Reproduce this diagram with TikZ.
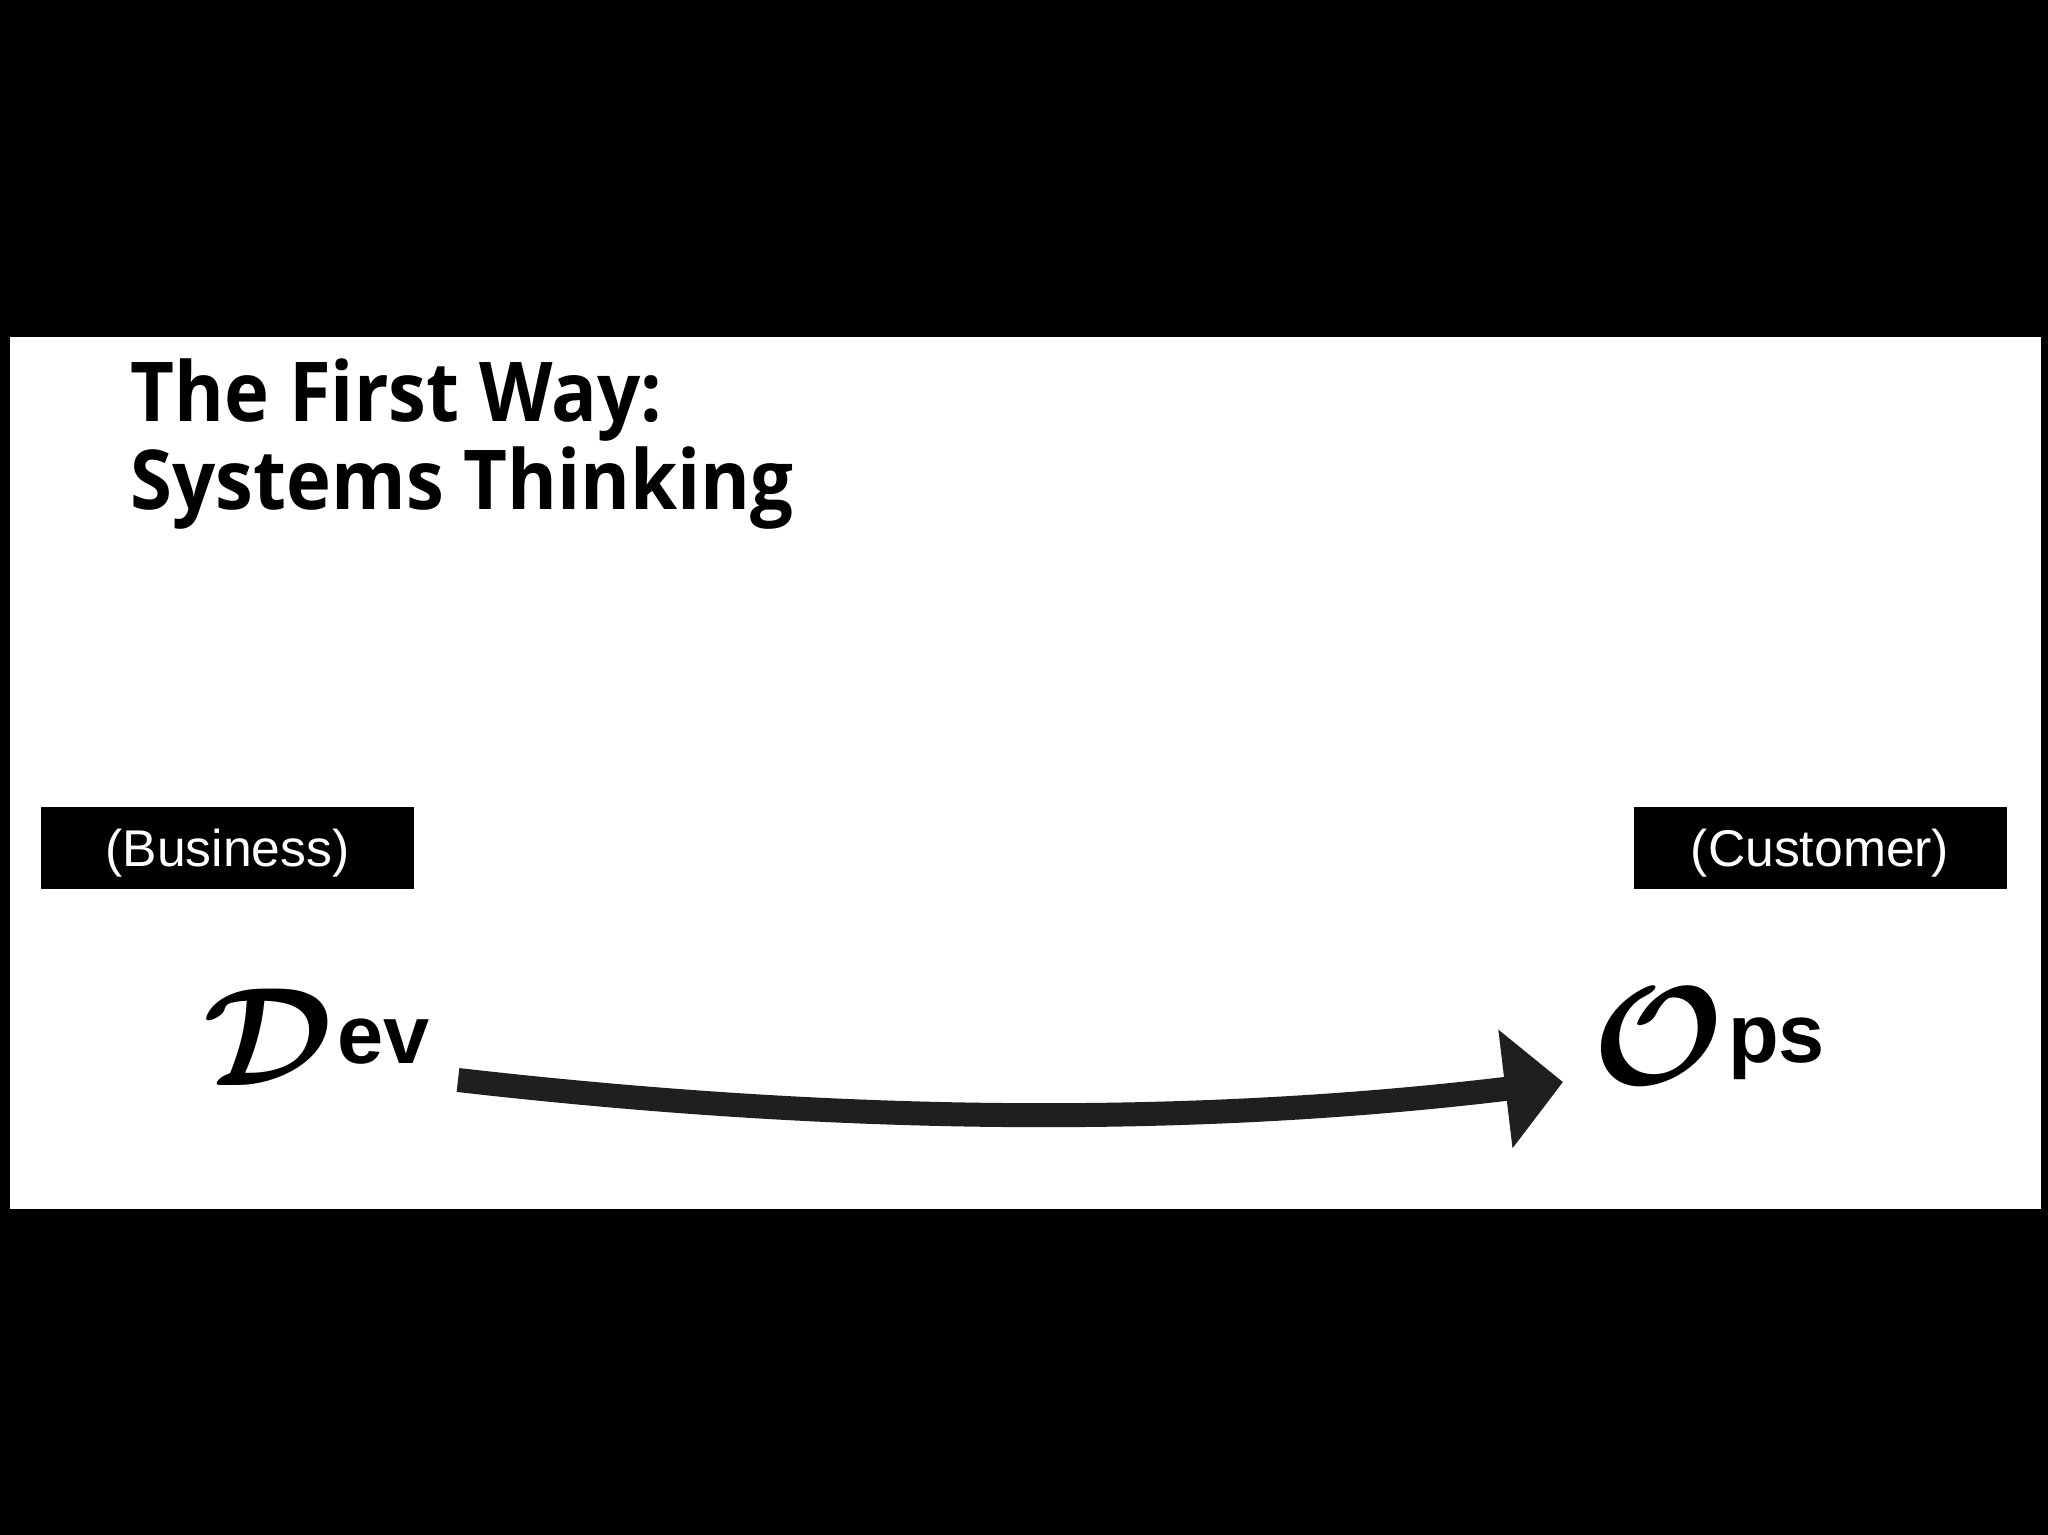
\RequirePackage{fix-cm}
\documentclass[tikz,border=0pt]{standalone}
\usepackage{fontspec}
\setsansfont{Open Sans}[FakeStretch=0.92]
\newfontfamily\tagfont{Liberation Sans}
\usetikzlibrary{arrows.meta,positioning}
\colorlet{flowcolor}{black!88}
\newcommand{\swash}[1]{\raisebox{-6.5pt}{\fontsize{40}{44}\selectfont\boldmath$\mathcal{#1}$}}

\begin{document}
\begin{tikzpicture}[x=0.1mm, y=-0.1mm,
  heading/.style={anchor=base west, inner sep=0pt, font=\sffamily\bfseries\fontsize{23.5}{28}\selectfont},
  tagbox/.style={rectangle, fill=black, text=white, minimum width=37.3mm, minimum height=8.2mm,
                 inner sep=0pt, text depth=0pt, font=\tagfont\fontsize{14.7}{17}\selectfont},
  stage/.style={anchor=base west, inner sep=0pt, font=\tagfont\bfseries\fontsize{23.6}{28}\selectfont},
  flow/.style={-{Triangle[length=5.8mm, width=11.6mm]}, line width=2.4mm, color=flowcolor}
]
\useasboundingbox (0,0) rectangle (2048,1535);
\fill[black] (0,0) rectangle (2048,1535);
\fill[white] (10,337) rectangle (2041,1209);

% title
\node[heading] (title) at (130,422) {The First Way:};
\node[heading] (subtitle) at (130,510) {Systems Thinking};

% the two ends
\node[tagbox] (business) at (227.5,848) {(Business)};
\node[tagbox] (customer) at (1820,848) {(Customer)};

\node[stage] (dev) at (203,1063) {\swash{D}\kern1pt ev};
\node[stage] (ops) at (1592,1062) {\swash{O}\kern1pt ps};

% flow of work
\coordinate (devout) at (458,1080);
\coordinate (opsin) at (1563,1082);
\draw[flow] (devout) .. controls (808,1120) and (1163,1130) .. (opsin);
\end{tikzpicture}
\end{document}
